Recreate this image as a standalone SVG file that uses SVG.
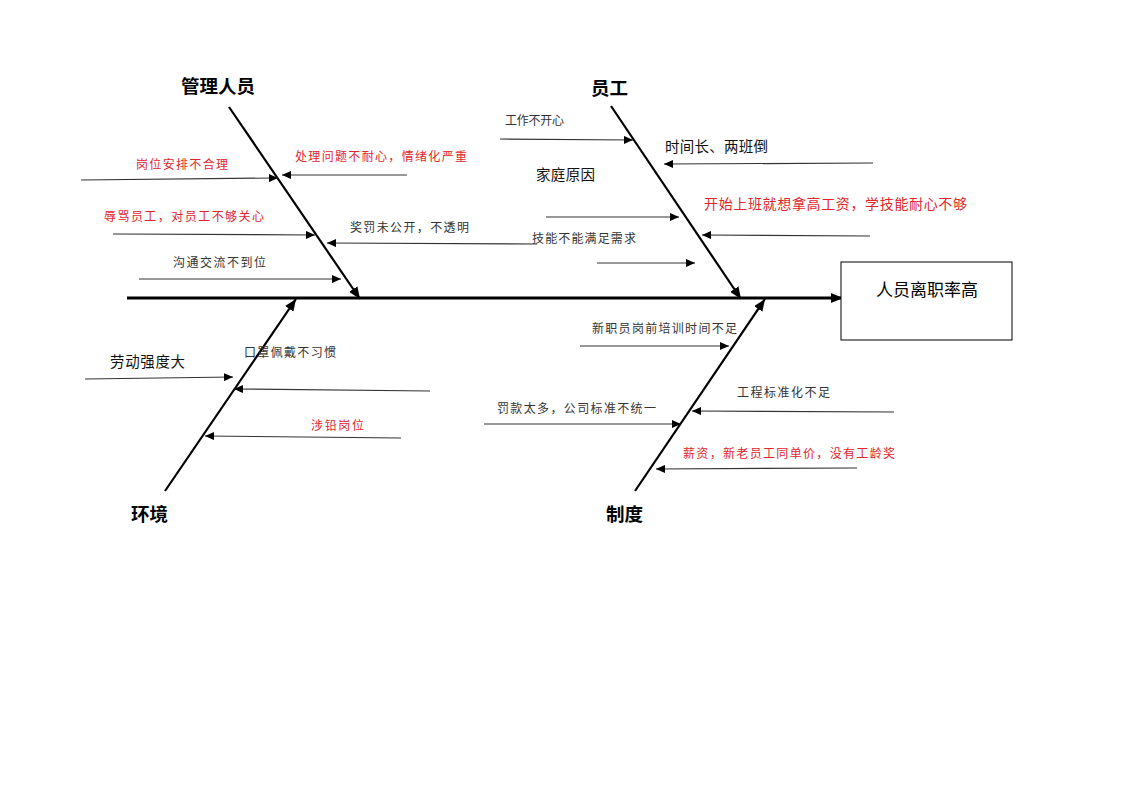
<svg xmlns="http://www.w3.org/2000/svg" width="1122" height="793" viewBox="0 0 1122 793">
<style>
.bg{fill:#fff}
.bone{stroke:#000;stroke-width:2.2;fill:none}
.spine{stroke:#000;stroke-width:3.2;fill:none}
.sub{stroke:#333;stroke-width:1.2;fill:none}
.cat{font-family:"Liberation Sans","Noto Sans CJK SC",sans-serif;font-weight:bold;font-size:18px;fill:#000}
.s{font-family:"Liberation Serif","Noto Sans CJK SC",serif;font-size:12px;fill:#333}
.r{font-family:"Liberation Serif","Noto Sans CJK SC",serif;font-size:12px;fill:#e0262c}
.sans{font-family:"Liberation Sans","Noto Sans CJK SC",sans-serif;font-size:14.5px;fill:#111}
.rl{font-family:"Liberation Serif","Noto Sans CJK SC",serif;font-size:14px;fill:#e0262c}
.box{fill:#fff;stroke:#000;stroke-width:1}
</style>
<defs>
<marker id="a" markerWidth="10" markerHeight="8" refX="9" refY="4" orient="auto" markerUnits="userSpaceOnUse"><path d="M0,0 L9,4 L0,8 z" fill="#000"/></marker>
<marker id="b" markerWidth="14" markerHeight="10" refX="12" refY="5" orient="auto" markerUnits="userSpaceOnUse"><path d="M0,0 L12,5 L0,10 z" fill="#000"/></marker>
</defs>
<rect class="bg" x="0" y="0" width="1122" height="793"/>
<g id="connectors">
<line class="spine" x1="127" y1="298" x2="843" y2="298" marker-end="url(#b)"/>
<line class="bone" x1="229" y1="107" x2="360" y2="299" marker-end="url(#b)"/>
<line class="bone" x1="611" y1="106" x2="741" y2="299" marker-end="url(#b)"/>
<line class="bone" x1="165" y1="491" x2="296" y2="299" marker-end="url(#b)"/>
<line class="bone" x1="635" y1="491" x2="765" y2="299" marker-end="url(#b)"/>
<line class="sub" x1="81" y1="180" x2="278" y2="178" marker-end="url(#a)"/>
<line class="sub" x1="407" y1="175" x2="282" y2="175" marker-end="url(#a)"/>
<line class="sub" x1="113" y1="234" x2="315" y2="235" marker-end="url(#a)"/>
<line class="sub" x1="537" y1="244" x2="327" y2="243" marker-end="url(#a)"/>
<line class="sub" x1="139" y1="279" x2="341" y2="279" marker-end="url(#a)"/>
<line class="sub" x1="500" y1="139" x2="633" y2="140" marker-end="url(#a)"/>
<line class="sub" x1="873" y1="163" x2="664" y2="164" marker-end="url(#a)"/>
<line class="sub" x1="546" y1="217" x2="679" y2="217" marker-end="url(#a)"/>
<line class="sub" x1="870" y1="236" x2="702" y2="235" marker-end="url(#a)"/>
<line class="sub" x1="597" y1="263" x2="695" y2="263" marker-end="url(#a)"/>
<line class="sub" x1="85" y1="379" x2="233" y2="377" marker-end="url(#a)"/>
<line class="sub" x1="430" y1="391" x2="234" y2="389" marker-end="url(#a)"/>
<line class="sub" x1="401" y1="438" x2="205" y2="436" marker-end="url(#a)"/>
<line class="sub" x1="580" y1="346" x2="729" y2="346" marker-end="url(#a)"/>
<line class="sub" x1="894" y1="412" x2="692" y2="411" marker-end="url(#a)"/>
<line class="sub" x1="484" y1="424" x2="681" y2="424" marker-end="url(#a)"/>
<line class="sub" x1="857" y1="468" x2="656" y2="469" marker-end="url(#a)"/>
</g>
<g id="effect">
<rect class="box" x="841" y="262" width="171" height="78"/>
<text x="927" y="296" text-anchor="middle" font-family="Liberation Sans,Noto Sans CJK SC,sans-serif" font-size="17" fill="#000">人员离职率高</text>
</g>
<g id="cat-management">
<text class="cat" x="181" y="93" textLength="74" lengthAdjust="spacingAndGlyphs">管理人员</text>
<text class="r" x="136" y="169" textLength="92">岗位安排不合理</text>
<text class="r" x="295" y="161" textLength="172">处理问题不耐心，情绪化严重</text>
<text class="r" x="104" y="221" textLength="160">辱骂员工，对员工不够关心</text>
<text class="s" x="350" y="232" textLength="119">奖罚未公开，不透明</text>
<text class="s" x="173" y="267" textLength="93">沟通交流不到位</text>
</g>
<g id="cat-staff">
<text class="cat" x="591" y="95" textLength="37" lengthAdjust="spacingAndGlyphs">员工</text>
<text class="s" x="505" y="125" font-size="11" textLength="59">工作不开心</text>
<text class="sans" x="665" y="152" textLength="103">时间长、两班倒</text>
<text class="sans" x="536" y="180" textLength="59">家庭原因</text>
<text class="rl" x="704" y="209" textLength="263">开始上班就想拿高工资，学技能耐心不够</text>
<text class="s" x="532" y="243" textLength="104">技能不能满足需求</text>
</g>
<g id="cat-environment">
<text class="cat" x="131" y="521" textLength="37" lengthAdjust="spacingAndGlyphs">环境</text>
<text class="sans" x="110" y="367" textLength="75">劳动强度大</text>
<text class="s" x="244" y="357" textLength="92">口罩佩戴不习惯</text>
<text class="r" x="311" y="430" textLength="53">涉铅岗位</text>
</g>
<g id="cat-system">
<text class="cat" x="606" y="521" textLength="37" lengthAdjust="spacingAndGlyphs">制度</text>
<text class="s" x="592" y="333" textLength="145">新职员岗前培训时间不足</text>
<text class="s" x="737" y="397" textLength="93">工程标准化不足</text>
<text class="s" x="497" y="413" textLength="159">罚款太多，公司标准不统一</text>
<text class="r" x="683" y="458" textLength="212">薪资，新老员工同单价，没有工龄奖</text>
</g>
</svg>
